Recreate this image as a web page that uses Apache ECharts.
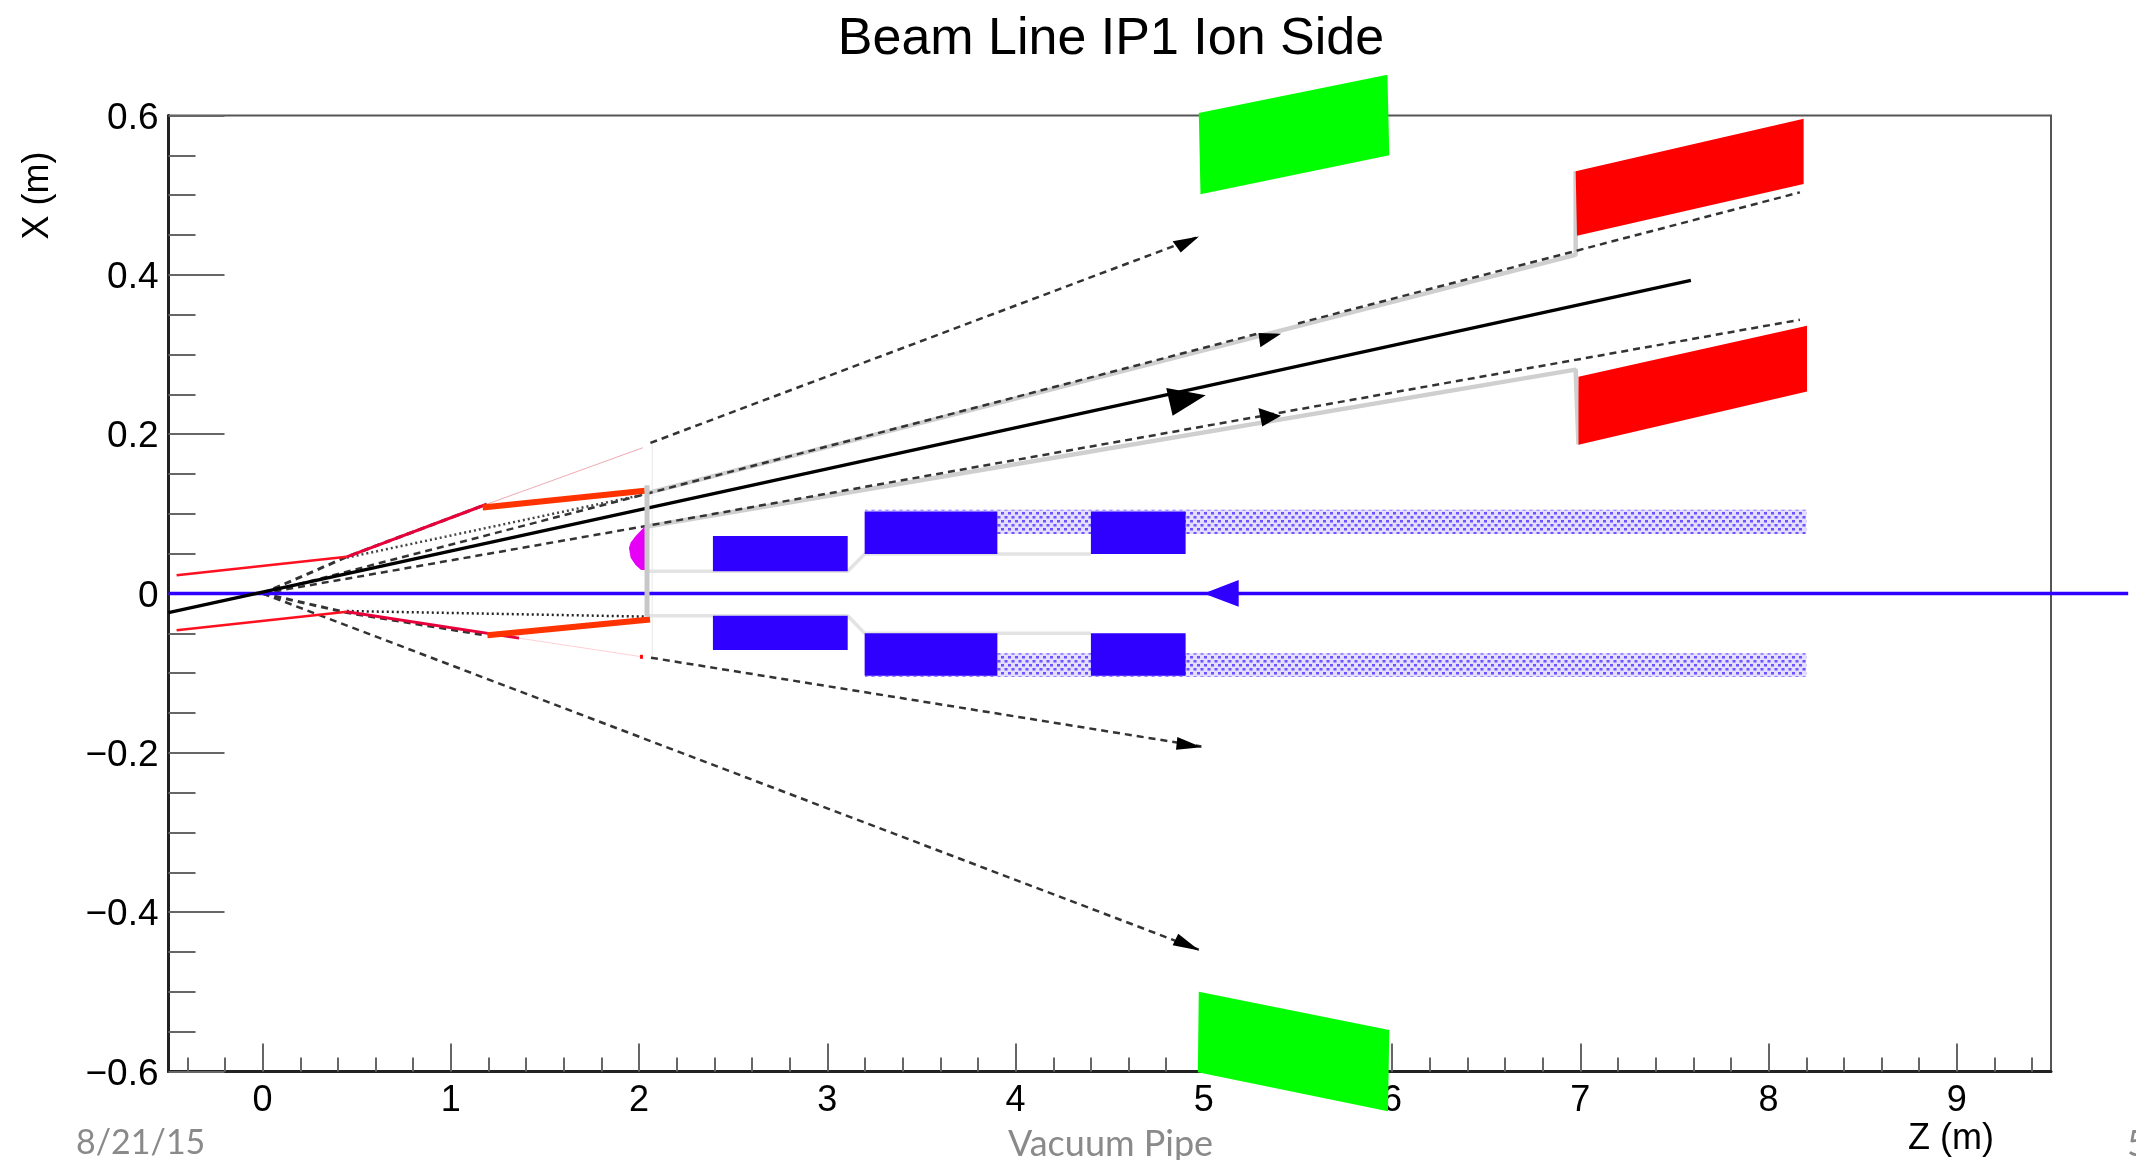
<!DOCTYPE html>
<html><head><meta charset="utf-8">
<style>html,body{margin:0;padding:0;background:#fff}#c{width:2136px;height:1160px}</style>
<script src="https://cdn.jsdelivr.net/npm/echarts@6/dist/echarts.min.js"></script>
</head><body><div id="c"></div>
<script>
// Tick values
const xMajor = [0,1,2,3,4,5,6,7,8,9];
const xMinor = [-0.4,-0.2,0.2,0.4,0.6,0.8,1.2,1.4,1.6,1.8,2.2,2.4,2.6,2.8,3.2,3.4,3.6,3.8,4.2,4.4,4.6,4.8,5.2,5.4,5.6,5.8,6.2,6.4,6.6,6.8,7.2,7.4,7.6,7.8,8.2,8.4,8.6,8.8,9.2,9.4];
const yMajor = [-0.6,-0.4,-0.2,0,0.2,0.4,0.6];
const yMinor = [-0.55,-0.5,-0.45,-0.35,-0.3,-0.25,-0.15,-0.1,-0.05,0.05,0.1,0.15,0.25,0.3,0.35,0.45,0.5,0.55];

// Lines, [z, x]
const ionBeam = [[-0.5,-0.024],[7.587,0.393]];
const electronBeam = [[-0.5,0],[9.91,0]];
const rayOuterTopNear = [[0,0],[0.447,0.046],[1.19,0.112]];
const rayOuterTopFar = [[2.06,0.189],[4.974,0.448]];
const rayMidTop = [[0,0],[2.02,0.124],[5.3,0.327]];
const rayMidTopFar = [[5.5,0.339],[8.166,0.5035]];
const rayLowTop = [[0,0],[2.02,0.084],[8.166,0.3436]];
const rayInnerBottomNear = [[0,0],[0.447,-0.024],[1.19,-0.0525]];
const rayInnerBottomFar = [[2.063,-0.0806],[4.987,-0.192]];
const rayOuterBottom = [[0,0],[4.973,-0.447]];
const dottedTop = [[0.447,0.045],[2.02,0.124]];
const dottedBottom = [[0.447,-0.022],[2.03,-0.029]];
const redThinTopA = [[-0.457,0.023],[0.447,0.046]];
const redThinBotA = [[-0.457,-0.046],[0.447,-0.023]];
const redTopB = [[0.447,0.046],[1.19,0.112]];
const redBotB = [[0.447,-0.023],[1.362,-0.056]];
const pinkTop = [[1.19,0.112],[2.02,0.183]];
const pinkBot = [[1.362,-0.056],[2.013,-0.0794]];
const orangeTop = [[1.169,0.108],[2.03,0.129]];
const orangeBot = [[1.194,-0.0525],[2.058,-0.0325]];
const greyWall = [[2.042,0.136],[2.042,-0.029]];
const faintWall = [[2.07,0.19],[2.07,-0.083]];
const greyUpper = [[2.042,0.126],[6.975,0.425],[6.975,0.53]];
const greyLower = [[2.042,0.084],[6.975,0.281],[6.99,0.187]];
const pipeTop = [[2.042,0.028],[3.108,0.028],[3.198,0.0496],[4.4,0.0496]];
const pipeBot = [[2.042,-0.028],[3.108,-0.028],[3.198,-0.05],[4.4,-0.05]];

// Filled shapes, [z, x] corners
const greenTop = [[4.973,0.603],[5.975,0.651],[5.985,0.55],[4.982,0.501]];
const greenBot = [[4.973,-0.5],[5.985,-0.548],[5.978,-0.65],[4.968,-0.601]];
const redTop = [[6.975,0.53],[8.186,0.596],[8.186,0.514],[6.982,0.449]];
const redLow = [[6.99,0.272],[8.204,0.336],[8.204,0.2535],[6.99,0.1866]];
const magnet = [[2.03,0.084],[1.985,0.073],[1.955,0.064],[1.946,0.057],[1.955,0.045],[1.98,0.036],[2.01,0.0295],[2.04,0.0295]];
const redDot = [[2.005,-0.077],[2.02,-0.077],[2.02,-0.082],[2.005,-0.082]];

// Boxes [z0, z1, x0, x1]
const blueBoxes = [[2.392,3.108,0.028,0.0722],[3.198,3.903,0.0496,0.1028],[4.40,4.903,0.0496,0.1028],
                   [2.392,3.108,-0.071,-0.028],[3.198,3.903,-0.1033,-0.05],[4.40,4.903,-0.1033,-0.05]];
const hatchBoxes = [[3.2,8.2,0.0748,0.105],[3.2,8.2,-0.1045,-0.075]];

// Arrowheads
const arrowsBlack = [
  [[5.01,0.249],[4.80,0.258],[4.834,0.223]],
  [[4.974,0.448],[4.834,0.442],[4.877,0.428]],
  [[5.41,0.326],[5.29,0.327],[5.30,0.309]],
  [[5.41,0.223],[5.29,0.2327],[5.31,0.2096]],
  [[4.989,-0.193],[4.859,-0.18],[4.852,-0.196]],
  [[4.976,-0.448],[4.864,-0.427],[4.834,-0.4416]]
];
const arrowBlue = [[4.999,0],[5.185,0.017],[5.185,-0.0165]];

const BLUE='#2f00ff', BLACK='#000', FOOT='#8a8a8a';

function dotPattern(){
  const c=document.createElement('canvas');c.width=7;c.height=8;
  const g=c.getContext('2d');
  g.fillStyle='#e4dfff';g.fillRect(0,0,7,8);
  g.fillStyle='#6f52ff';g.fillRect(0,0,3,2);g.fillRect(3.5,4,3,2);
  g.fillStyle='#a593ff';g.fillRect(0,2,3,1);g.fillRect(3.5,6,3,1);
  return c;
}
const pattern={image:dotPattern(),repeat:'repeat'};

function line(name,data,color,width,type,z){
  return {name,type:'line',data,clip:false,silent:true,showSymbol:false,symbol:'none',z:z||3,
    lineStyle:{color,width,type:type||'solid',cap:'butt'},itemStyle:{color}};
}
function poly(name,pts,fill,z){
  return {name,type:'custom',clip:false,silent:true,z:z||4,coordinateSystem:'cartesian2d',
    data:pts,encode:{x:0,y:1},
    renderItem:function(p,api){
      if(p.dataIndex!==0) return null;
      return {type:'polygon',shape:{points:pts.map(q=>api.coord(q))},style:{fill:fill,stroke:null}};
    }};
}
function strokeLine(name,pts,color,width,z){
  return {name,type:'custom',clip:false,silent:true,z:z||5,coordinateSystem:'cartesian2d',
    data:pts,encode:{x:0,y:1},
    renderItem:function(p,api){
      if(p.dataIndex!==0) return null;
      return {type:'polyline',shape:{points:pts.map(q=>api.coord(q))},style:{stroke:color,lineWidth:width,fill:null}};
    }};
}
function boxes(name,rows,fill,z){
  return {name,type:'custom',clip:false,silent:true,z:z||4,coordinateSystem:'cartesian2d',
    data:rows,encode:{x:[0,1],y:[2,3]},
    renderItem:function(p,api){
      const a=api.coord([api.value(0),api.value(3)]),b=api.coord([api.value(1),api.value(2)]);
      return {type:'rect',shape:{x:a[0],y:a[1],width:b[0]-a[0],height:b[1]-a[1]},style:{fill:fill,stroke:null}};
    }};
}
const D=[7,5], DOT=[2,3];
const series=[
  line('faint wall',faintWall,'#f0f0f0',1.5),
  line('pipe top',pipeTop,'#e3e3e3',3.5),
  line('pipe bottom',pipeBot,'#e3e3e3',3.5),
  boxes('hatch',hatchBoxes,pattern,3),
  line('grey upper',greyUpper,'#cfcfcf',4.5,null,3),
  line('grey lower',greyLower,'#cfcfcf',4.5,null,3),
  line('ray outer top near',rayOuterTopNear,'#333',3,D),
  line('ray outer top far',rayOuterTopFar,'#333',2.5,D),
  line('ray mid top',rayMidTop,'#333',2.5,D),
  line('ray mid top far',rayMidTopFar,'#333',2.5,D),
  line('ray low top',rayLowTop,'#333',2.5,D),
  line('ray inner bottom near',rayInnerBottomNear,'#333',3,D),
  line('ray inner bottom far',rayInnerBottomFar,'#333',2.5,D),
  line('ray outer bottom',rayOuterBottom,'#333',2.5,D),
  line('dotted top',dottedTop,'#444',2.5,DOT),
  line('dotted bottom',dottedBottom,'#222',2.5,DOT),
  line('red thin top',redThinTopA,'#ff1020',2.5),
  line('red thin bottom',redThinBotA,'#ff1020',2.5),
  line('red top',redTopB,'#e8003a',3),
  line('red bottom',redBotB,'#e8003a',3),
  line('pink top',pinkTop,'#e07080',0.6),
  line('pink bottom',pinkBot,'#ffb0b8',0.6),
  line('orange top',orangeTop,'#ff3300',6),
  line('orange bottom',orangeBot,'#ff3300',6),
  line('ion beam',ionBeam,BLACK,3.5,null,5),
  strokeLine('electron beam',electronBeam,BLUE,3.5,5),
  line('grey wall',greyWall,'#c8c8c8',5,null,6),
  boxes('blue boxes',blueBoxes,BLUE,5),
  poly('green top',greenTop,'#00ff00'),
  poly('green bottom',greenBot,'#00ff00'),
  poly('red top box',redTop,'#ff0000'),
  poly('red low box',redLow,'#ff0000'),
  poly('magnet',magnet,'#e600f5'),
  poly('red dot',redDot,'#ff0000'),
  poly('blue arrow',arrowBlue,BLUE,6)
].concat(arrowsBlack.map((a,i)=>poly('arrow '+i,a,'#000',6)));

const grid={left:168.5,top:115.5,width:1882.5,height:956,show:true,borderColor:'#555',borderWidth:2,backgroundColor:'transparent'};
const tickC='#666';
const font='"Liberation Sans",Arial,sans-serif';
const fmtY=v=>v===0?'0':(v<0?'\u2212':'')+Math.abs(v).toFixed(1);

const option={
  animation:false,backgroundColor:'#fff',
  title:{text:'Beam Line IP1 Ion Side',left:1106,top:9,textAlign:'center',textStyle:{fontFamily:font,fontSize:52,fontWeight:'normal',color:'#000'}},
  grid,
  xAxis:[
    {type:'value',position:'bottom',min:-0.5,max:9.5,splitLine:{show:false},
     name:'Z (m)',nameLocation:'end',nameMoveOverlap:false,nameGap:-143,nameTextStyle:{fontFamily:font,fontSize:36,color:'#000',verticalAlign:'top',padding:[50,0,0,0],align:'left'},
     axisLine:{show:true,onZero:false,lineStyle:{color:'#222',width:3}},
     axisTick:{show:true,inside:true,length:28,customValues:xMajor,lineStyle:{color:tickC,width:2}},
     axisLabel:{show:true,customValues:xMajor,margin:12,formatter:v=>String(v),fontFamily:font,fontSize:36,color:'#000',showMinLabel:true,showMaxLabel:true}},
    {type:'value',position:'bottom',min:-0.5,max:9.5,splitLine:{show:false},axisLine:{show:false,onZero:false},
     axisTick:{show:true,inside:true,length:14,customValues:xMinor,lineStyle:{color:tickC,width:2}},axisLabel:{show:false}}
  ],
  yAxis:[
    {type:'value',position:'left',min:-0.6,max:0.6,splitLine:{show:false},
     name:'X (m)',nameLocation:'end',nameMoveOverlap:false,nameRotate:90,nameGap:-124,nameTextStyle:{fontFamily:font,fontSize:36,color:'#000',verticalAlign:'bottom',padding:[0,0,112,0]},
     axisLine:{show:true,onZero:false,lineStyle:{color:'#222',width:3}},
     axisTick:{show:true,inside:true,length:56,customValues:yMajor,lineStyle:{color:tickC,width:2}},
     axisLabel:{show:true,customValues:yMajor,margin:10,verticalAlign:'top',lineHeight:6,formatter:fmtY,fontFamily:font,fontSize:37,color:'#000',showMinLabel:true,showMaxLabel:true}},
    {type:'value',position:'left',min:-0.6,max:0.6,splitLine:{show:false},axisLine:{show:false,onZero:false},
     axisTick:{show:true,inside:true,length:27,customValues:yMinor,lineStyle:{color:tickC,width:2}},axisLabel:{show:false}}
  ],
  series,
  graphic:[
    {type:'text',left:76,top:1126,style:{text:'8/21/15',fill:FOOT,font:'34px Lato'}},
    {type:'text',left:1008,top:1126,style:{text:'Vacuum Pipe',fill:FOOT,font:'36px Lato'}},
    {type:'text',left:2127,top:1126,style:{text:'5',fill:FOOT,font:'36px Lato'}}
  ]
};
echarts.init(document.getElementById('c')).setOption(option);
</script></body></html>
